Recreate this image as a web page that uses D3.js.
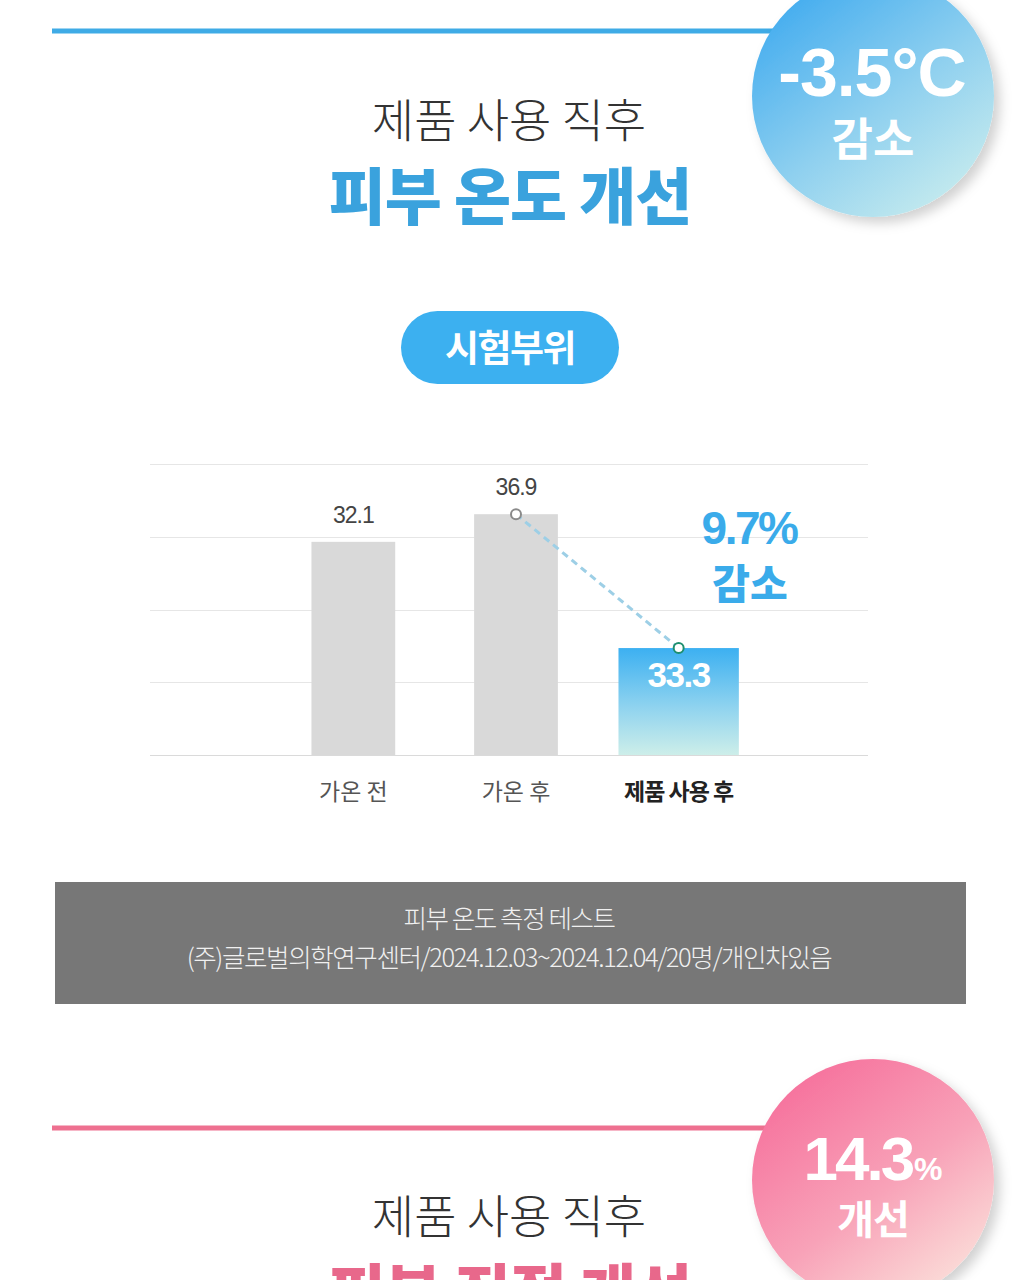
<!DOCTYPE html>
<html><head><meta charset="utf-8">
<script src="https://cdn.jsdelivr.net/npm/d3@7/dist/d3.min.js"></script>
<style>
html,body{margin:0;padding:0;background:#fff;}
svg{display:block;}
text{font-family:"Noto Sans CJK KR","Noto Sans",sans-serif;}
.num{font-family:"Liberation Sans",Arial,"Noto Sans CJK KR",sans-serif;}
</style></head>
<body>
<svg id="c" width="1020" height="1280"></svg>
<script>
// ---- data ----
const categories = ["가온 전", "가온 후", "제품 사용 후"];
const valueLabels = ["32.1", "36.9", "33.3"];          // printed values (°C)
const barLevels = [2.93, 3.31, 1.47];                  // drawn bar heights, in gridline units
const gridTicks = [0, 1, 2, 3, 4];
const highlightIndex = 2;
const badgeTop = ["-3.5°C", "감소"];
const badgeBottom = ["14.3", "%", "개선"];
const changeLabel = ["9.7%", "감소"];
const noteLines = ["피부 온도 측정 테스트", "(주)글로벌의학연구센터/2024.12.03~2024.12.04/20명/개인차있음"];

const svg = d3.select("#c");
const defs = svg.append("defs");

function lg(id, x1, y1, x2, y2, stops){
  const g = defs.append("linearGradient").attr("id", id)
    .attr("x1", x1).attr("y1", y1).attr("x2", x2).attr("y2", y2);
  stops.forEach(s => g.append("stop").attr("offset", s[0]).attr("stop-color", s[1]));
}
lg("gBlueCircle", "0.15", "0.1", "0.8", "0.95", [[0, "#45adef"], [0.55, "#8fd0ef"], [1, "#c4eaee"]]);
lg("gPinkCircle", "0.15", "0.1", "0.8", "0.95", [[0, "#f6729d"], [0.55, "#f8a2b8"], [1, "#fbdcd8"]]);
lg("gBar", "0", "0", "0", "1", [[0, "#3cb0f1"], [0.55, "#8fd3ef"], [1, "#cdeee9"]]);
const f = defs.append("filter").attr("id", "shadow").attr("x", "-20%").attr("y", "-20%").attr("width", "150%").attr("height", "150%");
f.append("feDropShadow").attr("dx", 6).attr("dy", 6).attr("stdDeviation", 6).attr("flood-color", "#000").attr("flood-opacity", 0.18);

// ---- top section ----
svg.append("rect").attr("x", 52).attr("y", 28.5).attr("width", 740).attr("height", 5).attr("fill", "#3fabe6");
svg.append("circle").attr("cx", 873).attr("cy", 96).attr("r", 121).attr("fill", "url(#gBlueCircle)").attr("filter", "url(#shadow)");
svg.append("text").attr("class", "num").attr("x", 872).attr("y", 96).attr("text-anchor", "middle")
  .attr("font-size", 68).attr("font-weight", 700).attr("fill", "#fff").attr("letter-spacing", -1).text(badgeTop[0]);
svg.append("text").attr("x", 873).attr("y", 156).attr("text-anchor", "middle")
  .attr("font-size", 45).attr("font-weight", 700).attr("fill", "#fff").text(badgeTop[1]);

svg.append("text").attr("x", 509).attr("y", 137).attr("text-anchor", "middle")
  .attr("font-size", 46).attr("font-weight", 300).attr("fill", "#333").text("제품 사용 직후");
svg.append("text").attr("x", 510).attr("y", 220).attr("text-anchor", "middle")
  .attr("font-size", 62).attr("font-weight", 900).attr("fill", "#3aa2dd").attr("letter-spacing", -1).text("피부 온도 개선");

svg.append("rect").attr("x", 401).attr("y", 311).attr("width", 218).attr("height", 73).attr("rx", 36.5)
  .attr("fill", "#3cb0f0");
svg.append("text").attr("x", 510).attr("y", 362).attr("text-anchor", "middle")
  .attr("font-size", 37).attr("font-weight", 700).attr("fill", "#fff").attr("letter-spacing", -1.5).text("시험부위");

// ---- chart ----
const y = d3.scaleLinear().domain([0, 4]).range([755, 464]);
const x = d3.scaleBand().domain(categories).range([272, 760]).padding(0);

const grid = svg.append("g");
grid.selectAll("line").data(gridTicks).join("line")
  .attr("x1", 150).attr("x2", 868)
  .attr("y1", d => Math.round(y(d)) + 0.5).attr("y2", d => Math.round(y(d)) + 0.5)
  .attr("stroke", d => d === 0 ? "#dadada" : "#e6e6e6").attr("stroke-width", 1);

const bw = i => i === highlightIndex ? x.bandwidth() * 0.74 : x.bandwidth() * 0.515;
const cx = i => x(categories[i]) + x.bandwidth() / 2;

svg.append("g").selectAll("rect").data(barLevels).join("rect")
  .attr("x", (d, i) => cx(i) - bw(i) / 2)
  .attr("width", (d, i) => bw(i))
  .attr("y", d => y(d))
  .attr("height", d => y(0) - y(d))
  .attr("fill", (d, i) => i === highlightIndex ? "url(#gBar)" : "#d9d9d9");

// value labels
svg.append("g").selectAll("text").data(valueLabels).join("text")
  .attr("class", "num")
  .attr("x", (d, i) => cx(i))
  .attr("y", (d, i) => i === highlightIndex ? y(barLevels[i]) + 39 : y(barLevels[i]) - 19)
  .attr("text-anchor", "middle")
  .attr("font-size", (d, i) => i === highlightIndex ? 35 : 23)
  .attr("font-weight", (d, i) => i === highlightIndex ? 700 : 400)
  .attr("letter-spacing", (d, i) => i === highlightIndex ? -1.5 : -1)
  .attr("fill", (d, i) => i === highlightIndex ? "#fff" : "#444")
  .text(d => d);

// dashed connector
const p1 = [cx(1), y(barLevels[1])], p2 = [cx(2), y(barLevels[2])];
svg.append("line").attr("x1", p1[0]).attr("y1", p1[1]).attr("x2", p2[0]).attr("y2", p2[1])
  .attr("stroke", "#9dcfe6").attr("stroke-width", 3).attr("stroke-dasharray", "7,5");
svg.append("circle").attr("cx", p1[0]).attr("cy", p1[1]).attr("r", 5).attr("fill", "#fff").attr("stroke", "#8a8a8a").attr("stroke-width", 2);
svg.append("circle").attr("cx", p2[0]).attr("cy", p2[1]).attr("r", 5).attr("fill", "#fff").attr("stroke", "#1e8f6e").attr("stroke-width", 2);

svg.append("text").attr("class", "num").attr("x", 749).attr("y", 544).attr("text-anchor", "middle")
  .attr("font-size", 46).attr("font-weight", 700).attr("fill", "#3aabea").attr("letter-spacing", -2.5).text(changeLabel[0]);
svg.append("text").attr("x", 750).attr("y", 599).attr("text-anchor", "middle")
  .attr("font-size", 41).attr("font-weight", 900).attr("fill", "#3aabea").text(changeLabel[1]);

// category labels
svg.append("g").selectAll("text").data(categories).join("text")
  .attr("x", (d, i) => cx(i)).attr("y", 800).attr("text-anchor", "middle")
  .attr("font-size", 23)
  .attr("font-weight", (d, i) => i === highlightIndex ? 700 : 400)
  .attr("fill", (d, i) => i === highlightIndex ? "#222" : "#555")
  .attr("letter-spacing", (d, i) => i === highlightIndex ? -1 : 0)
  .text(d => d);

// ---- note box ----
svg.append("rect").attr("x", 55).attr("y", 882).attr("width", 911).attr("height", 122).attr("fill", "#777777");
svg.append("g").selectAll("text").data(noteLines).join("text")
  .attr("x", 509).attr("y", (d, i) => 928 + i * 39).attr("text-anchor", "middle")
  .attr("font-size", 25.5).attr("font-weight", 300).attr("fill", "#f0f0f0").attr("letter-spacing", -1.4)
  .text(d => d);

// ---- bottom section ----
svg.append("rect").attr("x", 52).attr("y", 1125.5).attr("width", 740).attr("height", 5).attr("fill", "#ee7090");
svg.append("circle").attr("cx", 873).attr("cy", 1180).attr("r", 121).attr("fill", "url(#gPinkCircle)").attr("filter", "url(#shadow)");
const bt = svg.append("text").attr("x", 873).attr("y", 1180).attr("text-anchor", "middle").attr("fill", "#fff").attr("font-weight", 700);
bt.append("tspan").attr("class", "num").attr("font-size", 62).attr("letter-spacing", -3).text(badgeBottom[0]);
bt.append("tspan").attr("class", "num").attr("font-size", 32).attr("dx", 2).text(badgeBottom[1]);
svg.append("text").attr("x", 873).attr("y", 1234).attr("text-anchor", "middle")
  .attr("font-size", 40).attr("font-weight", 700).attr("fill", "#fff").attr("letter-spacing", -1).text(badgeBottom[2]);

svg.append("text").attr("x", 509).attr("y", 1233).attr("text-anchor", "middle")
  .attr("font-size", 46).attr("font-weight", 300).attr("fill", "#333").text("제품 사용 직후");
svg.append("text").attr("x", 510).attr("y", 1316).attr("text-anchor", "middle")
  .attr("font-size", 62).attr("font-weight", 900).attr("fill", "#e8688b").attr("letter-spacing", -1).text("피부 진정 개선");
</script>
</body></html>
